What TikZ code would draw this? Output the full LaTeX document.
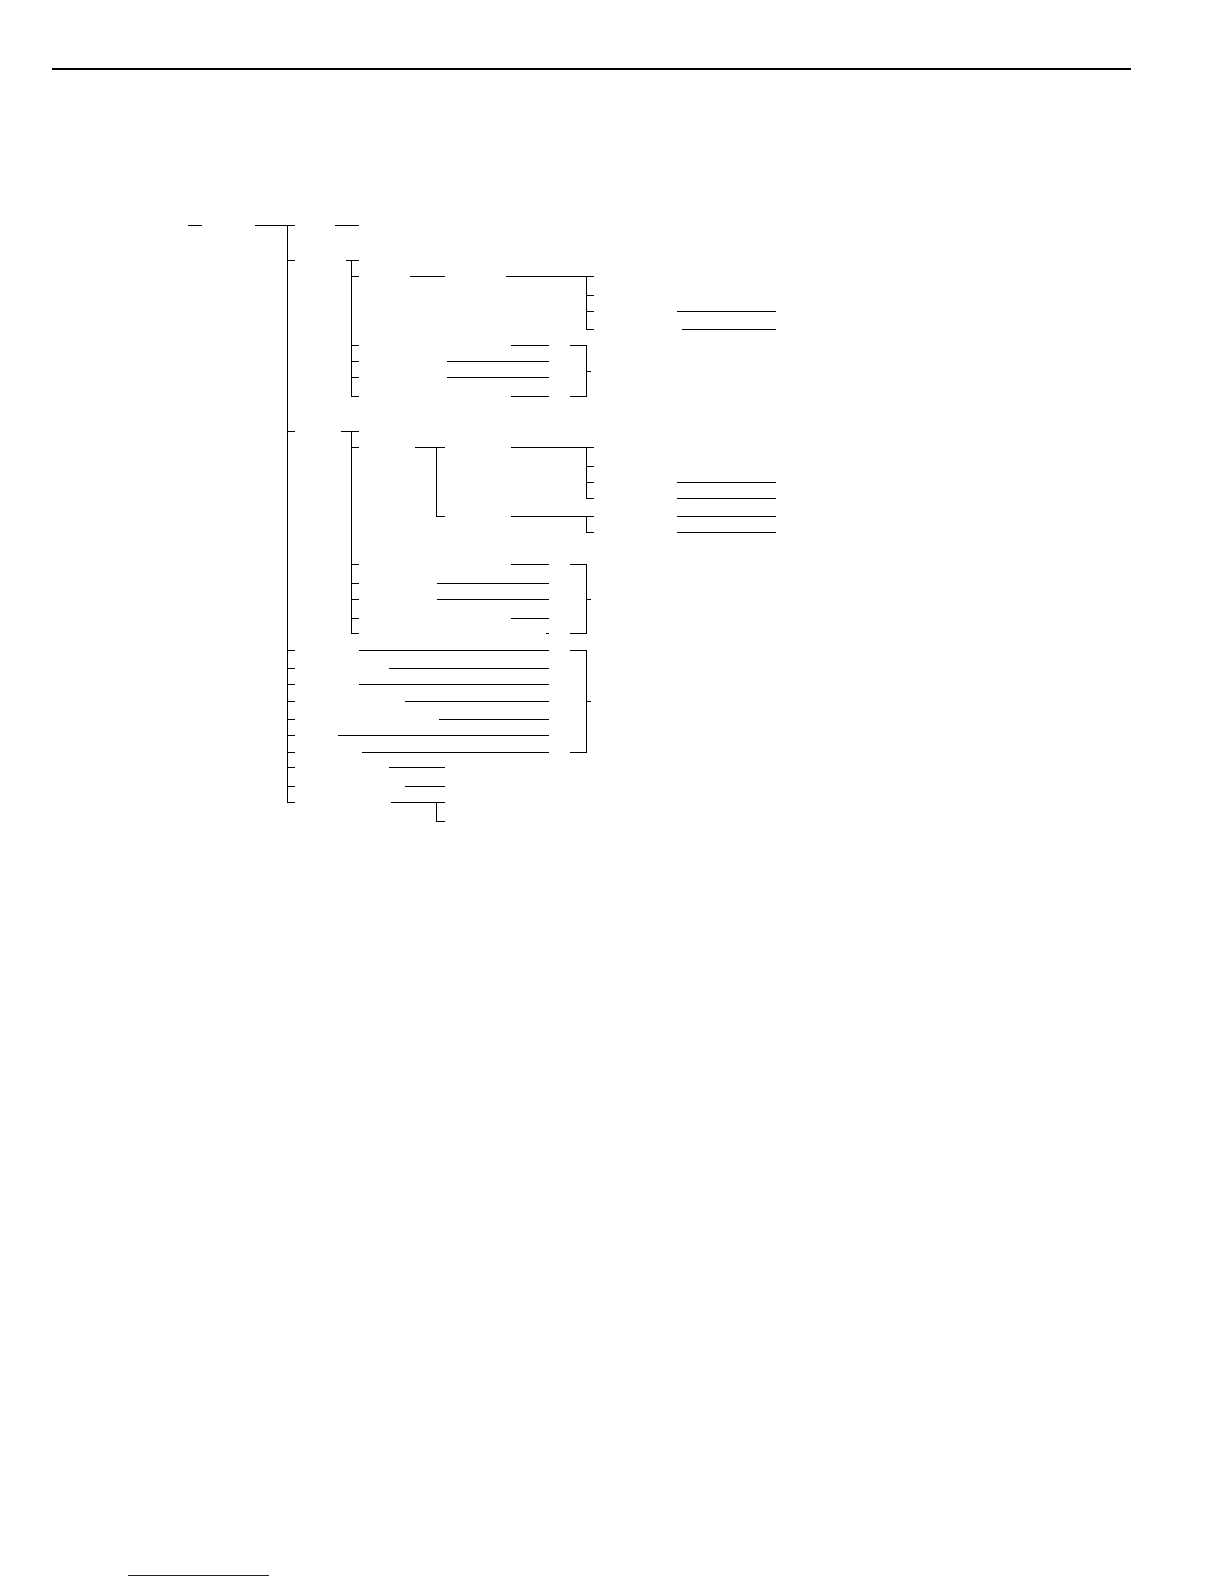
\documentclass[tikz,border=0pt]{standalone}
\usepackage{tikz}
\definecolor{linkblue}{RGB}{20,20,140}

\begin{document}
\begin{tikzpicture}[x=0.5bp, y=-0.5bp, line width=0.5pt]
	\useasboundingbox (0,0) rectangle (1224,1584);
	\draw[line width=0.6pt] (52,69) -- (1131,69);
	\draw[linkblue] (128,1575) -- (269,1575);

	% root and spine
	\draw (188,225) -- (202,225);
	\draw (255,225) -- (295,225);
	\draw (335,225) -- (359,225);
	\draw (287.3,225) -- (287.3,802.3);
	\foreach \y in {260.7,431.3,650.3,668.3,684,701.3,719.3,735.3,752.3,767,786,802.3}
		\draw (287.3,\y) -- (295,\y);

	% first group
	\draw (346,260.7) -- (359,260.7);
	\draw (351.3,260.7) -- (351.3,396.3);
	\foreach \y in {276.3,345.7,361.3,377.3,396.3}
		\draw (351.3,\y) -- (359,\y);
	\draw (410,276.3) -- (445,276.3);
	\draw (506,276.3) -- (594,276.3);
	\draw (586.3,276.3) -- (586.3,329.3);
	\foreach \y in {295,311.3,329.3}
		\draw (586.3,\y) -- (594,\y);
	\draw (677,311.3) -- (775.7,311.3);
	\draw (682,329.3) -- (775.7,329.3);
	\draw (511,345.7) -- (548.7,345.7);
	\draw (447.3,361.3) -- (548.7,361.3);
	\draw (447.3,377.3) -- (548.7,377.3);
	\draw (511,396.3) -- (548.7,396.3);
	\draw (570,345.7) -- (586.3,345.7) -- (586.3,396.3) -- (570,396.3);
	\draw (586.3,371.3) -- (590.7,371.3);

	% second group
	\draw (340.7,431.3) -- (359,431.3);
	\draw (351.3,431.3) -- (351.3,633.7);
	\foreach \y in {447.3,564.3,583.3,599.3,618.7,633.7}
		\draw (351.3,\y) -- (359,\y);
	\draw (415.3,447.3) -- (445,447.3);
	\draw (436.3,447.3) -- (436.3,516.3) -- (445,516.3);
	\draw (511,447.3) -- (594,447.3);
	\draw (586.3,447.3) -- (586.3,498.7);
	\foreach \y in {466.3,482.3,498.7}
		\draw (586.3,\y) -- (594,\y);
	\draw (511,516.3) -- (594,516.3);
	\draw (586.3,516.3) -- (586.3,532.3) -- (594,532.3);
	\foreach \y in {482.3,498.7,516.3,532.3}
		\draw (677,\y) -- (775.7,\y);
	\draw (511,564.3) -- (548.7,564.3);
	\draw (436.7,583.3) -- (548.7,583.3);
	\draw (436.7,599.3) -- (548.7,599.3);
	\draw (511,618.7) -- (548.7,618.7);
	\draw (546,633.7) -- (548.7,633.7);
	\draw (570,564.3) -- (586.3,564.3) -- (586.3,633.7) -- (570,633.7);
	\draw (586.3,599.3) -- (590.7,599.3);

	% leaves on the spine
	\draw (359.3,650.3) -- (548.7,650.3);
	\draw (389,668.3) -- (548.7,668.3);
	\draw (359.3,684) -- (548.7,684);
	\draw (405,701.3) -- (548.7,701.3);
	\draw (439,719.3) -- (548.7,719.3);
	\draw (338,735.3) -- (548.7,735.3);
	\draw (362,752.3) -- (548.7,752.3);
	\draw (570,650.3) -- (586.3,650.3) -- (586.3,752.3) -- (570,752.3);
	\draw (586.3,701.3) -- (590.7,701.3);
	\draw (389,767) -- (445,767);
	\draw (405,786) -- (445,786);
	\draw (391,802.3) -- (445,802.3);
	\draw (436.7,802.3) -- (436.7,821.3) -- (445,821.3);
\end{tikzpicture}
\end{document}
